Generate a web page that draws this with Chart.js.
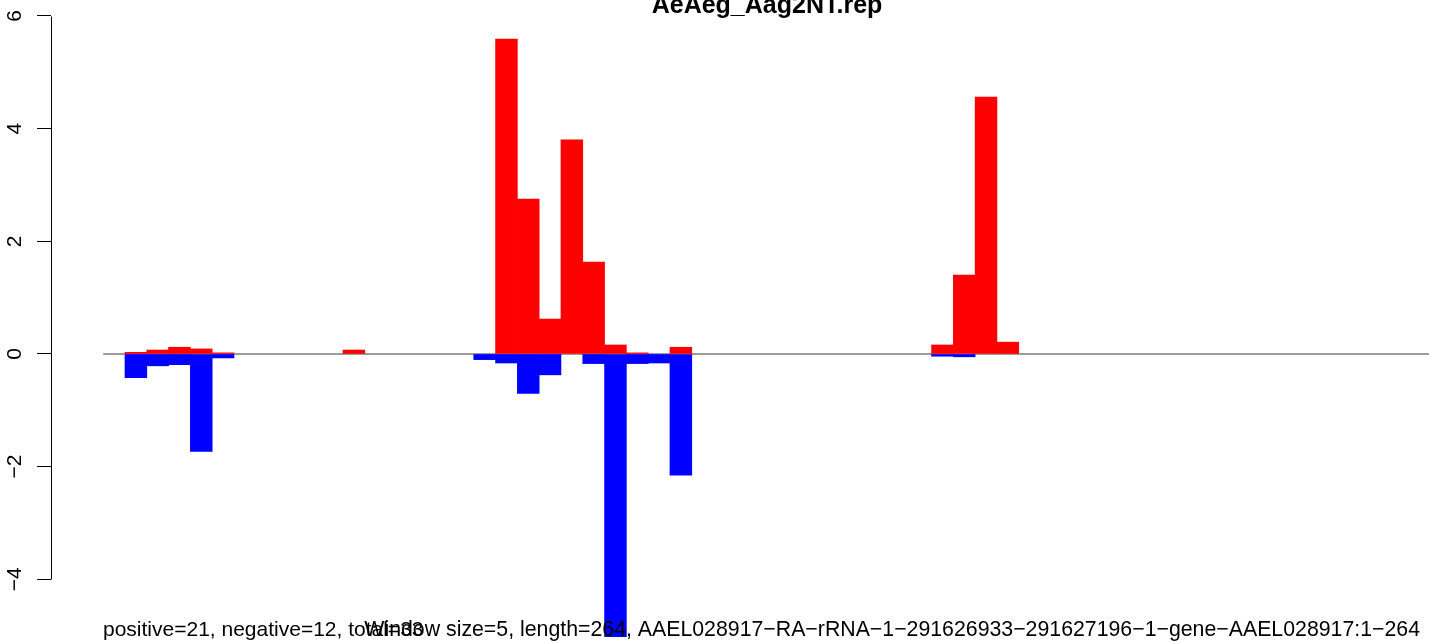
<!DOCTYPE html>
<html><head><meta charset="utf-8">
<script src="https://cdn.jsdelivr.net/npm/chart.js@4"></script>
<style>html,body{margin:0;padding:0;background:#fff;overflow:hidden}canvas{display:block}</style>
</head><body>
<canvas id="c" width="1429" height="641"></canvas>
<script>
const titleText = "AeAeg_Aag2NT.rep";
const leftNote = "positive=21, negative=12, total=33";
const rightNote = "Window size=5, length=264, AAEL028917\u2212RA\u2212rRNA\u22121\u2212291626933\u2212291627196\u22121\u2212gene\u2212AAEL028917:1\u2212264";

const bins = [1,2,3,4,5,6,7,8,9,10,11,12,13,14,15,16,17,18,19,20,21,22,23,24,25,26,27,28,29,30,31,32,33,34,35,36,37,38,39,40,41];
const positive = [0.03,0.07,0.12,0.09,0.02,0,0,0,0,0,0.07,0,0,0,0,0,0,5.59,2.75,0.62,3.80,1.63,0.16,0.02,0,0.12,0,0,0,0,0,0,0,0,0,0,0,0.16,1.40,4.56,0.21];
const negative = [-0.42,-0.21,-0.19,-1.73,-0.07,0,0,0,0,0,0,0,0,0,0,0,-0.10,-0.16,-0.70,-0.37,0,-0.17,-5.02,-0.17,-0.16,-2.15,0,0,0,0,0,0,0,0,0,0,0,-0.04,-0.05,0,0];
const yTicks = [-4,-2,0,2,4,6];
const yTickLabels = ["\u22124","\u22122","0","2","4","6"];
const zeroLineX = [-0.5, 60.32];
const zeroLineY = [0, 0];

const FONT = '"Liberation Sans", Arial, Helvetica, sans-serif';

const decor = {
  id: 'decor',
  afterDraw(chart) {
    const {ctx, chartArea, scales} = chart;
    const y = scales.y;
    ctx.save();
    ctx.strokeStyle = '#000';
    ctx.lineWidth = 1;
    const ax = Math.round(chartArea.left) + 0.5;
    ctx.beginPath();
    ctx.moveTo(ax, Math.round(y.getPixelForValue(yTicks[yTicks.length-1])) + 0.5);
    ctx.lineTo(ax, Math.round(y.getPixelForValue(yTicks[0])) + 0.5);
    ctx.stroke();
    ctx.fillStyle = '#000';
    ctx.font = '21px ' + FONT;
    ctx.textAlign = 'center';
    ctx.textBaseline = 'alphabetic';
    yTicks.forEach((v, i) => {
      const py = y.getPixelForValue(v);
      ctx.save();
      ctx.translate(21, py);
      ctx.rotate(-Math.PI / 2);
      ctx.fillText(yTickLabels[i], 0, 0);
      ctx.restore();
    });
    ctx.font = 'bold 25px ' + FONT;
    ctx.textAlign = 'center';
    ctx.fillText(titleText, 767, 13);
    ctx.font = '21px ' + FONT;
    ctx.textAlign = 'left';
    ctx.fillText(leftNote, 103, 636);
    ctx.font = '21.3px ' + FONT;
    ctx.textAlign = 'right';
    ctx.fillText(rightNote, 1420, 636);
    ctx.restore();
  }
};

const toBar = arr => bins.map((b, i) => ({x: b, y: arr[i] === 0 ? null : arr[i]}));

new Chart(document.getElementById('c'), {
  data: {
    datasets: [
      {
        type: 'line',
        data: zeroLineX.map((x, i) => ({x, y: zeroLineY[i]})),
        borderColor: '#7a7a7a',
        borderWidth: 1.3,
        pointRadius: 0,
        order: 3
      },
      {
        type: 'bar',
        data: toBar(positive),
        backgroundColor: '#FF0000',
        borderWidth: 0,
        grouped: false,
        barPercentage: 1,
        categoryPercentage: 1,
        order: 1
      },
      {
        type: 'bar',
        data: toBar(negative),
        backgroundColor: '#0000FF',
        borderWidth: 0,
        grouped: false,
        barPercentage: 1,
        categoryPercentage: 1,
        order: 2
      }
    ]
  },
  options: {
    responsive: false,
    animation: false,
    devicePixelRatio: 1,
    layout: {padding: 0},
    plugins: {legend: {display: false}, tooltip: {enabled: false}, title: {display: false}},
    scales: {
      x: {
        type: 'linear',
        min: -2.894,
        max: 60.32,
        offset: false,
        grid: {offset: false},
        display: false
      },
      y: {
        type: 'linear',
        min: -5.095,
        max: 6.284,
        afterBuildTicks(scale) { scale.ticks = yTicks.map(v => ({value: v})); },
        afterFit(scale) { scale.width = 51; },
        border: {display: false},
        grid: {display: true, drawOnChartArea: false, drawTicks: true, tickLength: 14, color: '#000', lineWidth: 1},
        ticks: {display: false}
      }
    }
  },
  plugins: [decor]
});
</script>
</body></html>
